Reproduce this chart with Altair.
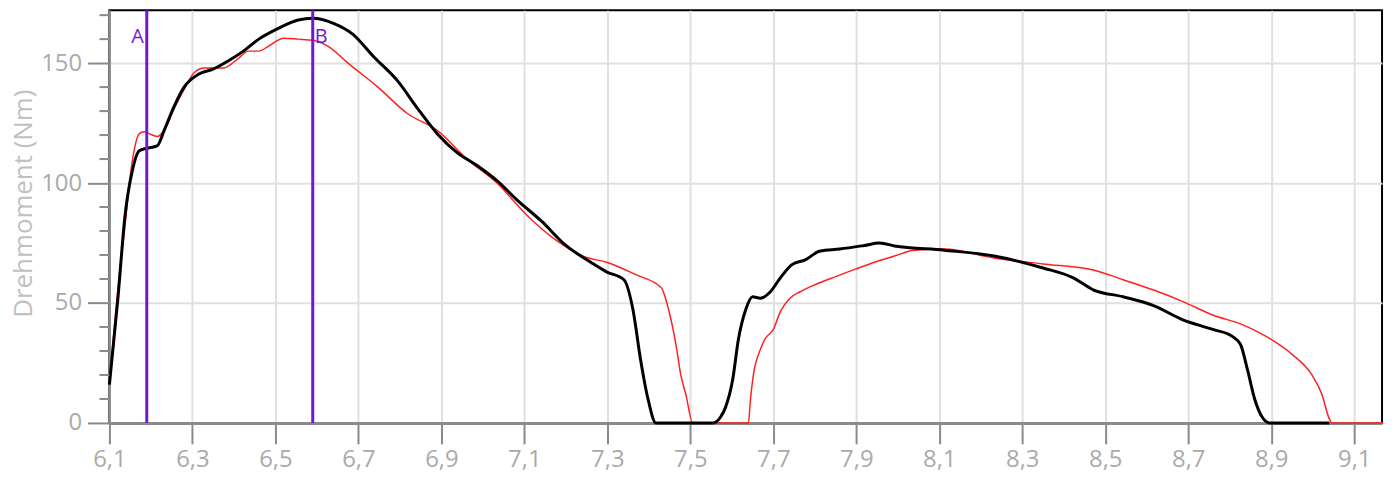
import altair as alt
import pandas as pd

# Black series (reference)
black_x = [6.10, 6.12, 6.138, 6.155, 6.172, 6.19, 6.215, 6.232, 6.256, 6.28, 6.316, 6.35,
           6.387, 6.423, 6.46, 6.507, 6.555, 6.59, 6.64, 6.687, 6.735, 6.795, 6.843, 6.89,
           6.938, 6.986, 7.034, 7.082, 7.142, 7.2, 7.26, 7.298, 7.34, 7.362, 7.38, 7.398,
           7.417, 7.554, 7.573, 7.585, 7.602, 7.616, 7.633, 7.65, 7.669, 7.693, 7.717,
           7.745, 7.777, 7.813, 7.86, 7.92, 7.956, 7.992, 8.112, 8.232, 8.35, 8.423,
           8.471, 8.543, 8.615, 8.687, 8.759, 8.807, 8.826, 8.843, 8.86, 8.878, 8.897, 9.04]
black_y = [16, 51, 87, 105, 113.5, 114.5, 115.5, 122, 132, 140, 145.5, 147.5,
           151, 155, 160, 164.5, 168, 168.7, 166.6, 162, 153, 142.5, 131, 120.6,
           112.7, 107.3, 101, 93, 84, 74, 67, 63, 59.7, 47, 26.5, 10,
           0, 0, 2.5, 6.6, 18, 35, 47, 52.6, 52, 54.7, 60.5,
           66, 68, 71.7, 72.5, 74, 75, 73.8, 72, 69.6, 64.6, 60.5,
           55.5, 52.6, 49, 43, 39, 36, 32.7, 22, 10, 2.5, 0, 0]

# Red series (comparison)
red_x = [6.10, 6.12, 6.136, 6.155, 6.172, 6.184, 6.196, 6.215, 6.232, 6.256, 6.28, 6.304,
         6.328, 6.35, 6.375, 6.411, 6.435, 6.46, 6.483, 6.52, 6.555, 6.59, 6.627, 6.675,
         6.747, 6.818, 6.89, 6.962, 7.034, 7.106, 7.178, 7.25, 7.298, 7.37, 7.43, 7.448,
         7.465, 7.477, 7.489, 7.506, 7.64, 7.645, 7.652, 7.669, 7.68, 7.7, 7.717, 7.74,
         7.765, 7.8, 7.85, 7.896, 7.944, 7.992, 8.04, 8.112, 8.232, 8.35, 8.471, 8.543,
         8.615, 8.687, 8.759, 8.83, 8.9, 8.95, 8.998, 9.022, 9.04, 9.046, 9.17]
red_y = [16, 55, 80, 109, 120.6, 121.4, 120.6, 119.4, 122, 131, 139, 146,
         148, 148, 148, 152, 155, 155, 157, 160.4, 160, 159.5, 157, 150,
         140, 129, 122, 110, 100, 86.6, 76, 69, 67, 61.7, 56.4, 47,
         33, 20, 12, 0, 0, 10, 20, 30.7, 35, 39, 46.4, 52,
         54.7, 57.6, 61, 64, 67, 69.6, 72, 72.5, 68.8, 66.3, 63.8, 59.7,
         55.5, 50.6, 45, 41, 34.8, 28.6, 20, 12, 1.7, 0, 0]

marker_x = [6.19, 6.59]
marker_labels = ["A", "B"]

x_ticks = [6.1, 6.3, 6.5, 6.7, 6.9, 7.1, 7.3, 7.5, 7.7, 7.9, 8.1, 8.3, 8.5, 8.7, 8.9, 9.1]
y_ticks = [0, 50, 100, 150]
y_minor = [10, 20, 30, 40, 60, 70, 80, 90, 110, 120, 130, 140, 160, 170]

black_df = pd.DataFrame({"x": black_x, "y": black_y})
red_df = pd.DataFrame({"x": red_x, "y": red_y})
marker_df = pd.DataFrame({"x": marker_x, "label": marker_labels})
minor_df = pd.DataFrame({"y": y_minor})

GRAY = "#aaaaaa"
FONT = "Open Sans"
PURPLE = "#7316d8"

xscale = alt.Scale(domain=[6.1, 9.167], nice=False, zero=False)
yscale = alt.Scale(domain=[0, 172], nice=False)

xaxis = alt.Axis(
    values=x_ticks, labelExpr="replace(format(datum.value, '.1f'), '.', ',')",
    title=None, grid=True, gridColor="#e0e0e0", gridWidth=2,
    tickColor="#8a8a8a", tickSize=21, tickWidth=2, labelPadding=4,
    domainColor="#8a8a8a", domainWidth=3,
    labelColor=GRAY, labelFontSize=24, labelFont=FONT, labelFlush=False,
)
yaxis = alt.Axis(
    values=y_ticks, title="Drehmoment (Nm)", grid=True, gridColor="#e0e0e0", gridWidth=2,
    tickColor="#8a8a8a", tickSize=22, tickWidth=2, labelPadding=6,
    domainColor="#8a8a8a", domainWidth=2,
    labelColor=GRAY, labelFontSize=24, labelFont=FONT,
    titleColor="#c0c0c0", titleFontSize=26, titleFont=FONT, titleFontWeight="normal",
    titleX=-86, titleY=194, titleAngle=270, titleAlign="center", titleBaseline="middle",
)

black = alt.Chart(black_df).mark_line(color="black", strokeWidth=3, interpolate="monotone").encode(
    x=alt.X("x:Q", scale=xscale, axis=xaxis),
    y=alt.Y("y:Q", scale=yscale, axis=yaxis),
)
red = alt.Chart(red_df).mark_line(color="#ff2020", strokeWidth=1.5, interpolate="monotone").encode(
    x=alt.X("x:Q", scale=xscale),
    y=alt.Y("y:Q", scale=yscale),
)
minor = alt.Chart(minor_df).mark_rule(color="#8a8a8a", strokeWidth=2).encode(
    y=alt.Y("y:Q", scale=yscale),
    x=alt.value(-10), x2=alt.value(0),
)
markers = alt.Chart(marker_df).mark_rule(color=PURPLE, strokeWidth=3).encode(
    x=alt.X("x:Q", scale=xscale),
)
label_a = alt.Chart(marker_df).transform_filter("datum.label == 'A'").mark_text(
    color=PURPLE, fontSize=20, font=FONT, align="right", baseline="alphabetic", dx=-3
).encode(x=alt.X("x:Q", scale=xscale), y=alt.value(33), text="label:N")
label_b = alt.Chart(marker_df).transform_filter("datum.label == 'B'").mark_text(
    color=PURPLE, fontSize=20, font=FONT, align="left", baseline="alphabetic", dx=2
).encode(x=alt.X("x:Q", scale=xscale), y=alt.value(33), text="label:N")

chart = alt.layer(red, black, minor, markers, label_a, label_b).properties(
    width=1280, height=415,
    padding={"left": 102, "top": 1, "right": 5, "bottom": 52},
    autosize=alt.AutoSizeParams(type="none"),
).configure_view(stroke="black", strokeWidth=2)

chart.save("out.html", embed_options={"renderer": "svg", "actions": False})
